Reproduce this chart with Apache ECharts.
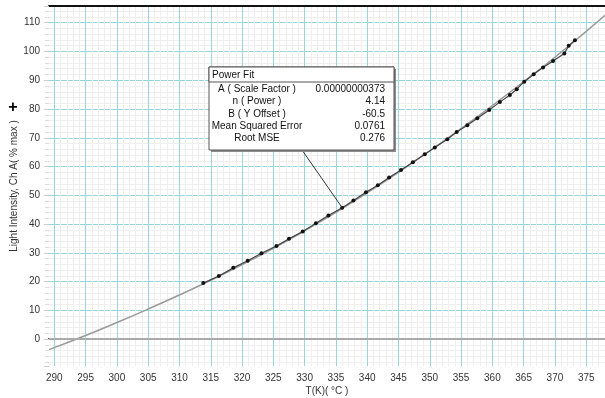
<!DOCTYPE html>
<html>
<head>
<meta charset="utf-8">
<script src="https://cdn.jsdelivr.net/npm/echarts@6/dist/echarts.min.js"></script>
<style>
html,body{margin:0;padding:0;background:#fff;}
#main{width:605px;height:398px;}
</style>
</head>
<body>
<div id="main"></div>
<script>
// measured points: temperature (K) and light intensity (% max)
var tempK = [313.8, 316.3, 318.6, 320.9, 323.1, 325.5, 327.5, 329.7, 331.8, 333.8,
             336.0, 337.8, 339.8, 341.7, 343.5, 345.4, 347.3, 349.2, 350.8, 352.8,
             354.3, 356.0, 357.6, 359.5, 361.2, 362.8, 363.9, 365.1, 366.6, 368.1,
             369.7, 371.5, 372.2, 373.2];
var light = [19.5, 22.0, 24.8, 27.3, 29.9, 32.4, 34.9, 37.4, 40.3, 43.0,
             45.7, 48.2, 51.1, 53.5, 56.2, 58.8, 61.5, 64.3, 66.6, 69.5,
             72.0, 74.4, 76.8, 79.7, 82.4, 84.9, 86.9, 89.5, 92.1, 94.4,
             96.7, 99.3, 102.0, 103.9];

// power fit curve
var fitK = [289.15, 295, 300, 305, 310, 315, 320, 325, 330, 335, 340, 345, 350, 355, 360, 365, 370, 375, 378];
var fitY = [-3.6, 1.3, 5.8, 10.5, 15.4, 20.5, 25.9, 31.6, 37.7, 44.1, 50.9, 58.0, 65.5, 73.2, 81.2, 89.5, 98.0, 107.0, 112.6];

// fit box rows
var fitLabels = ['A ( Scale Factor )', 'n ( Power )', 'B ( Y Offset )', 'Mean Squared Error', 'Root MSE'];
var fitValues = ['0.00000000373', '4.14', '-60.5', '0.0761', '0.276'];

var xMin = 289.15, xMax = 378, yMin = -9.3, yMax = 115.8;

function pairs(xs, ys) {
    var out = [];
    for (var i = 0; i < xs.length; i++) out.push([xs[i], ys[i]]);
    return out;
}

var labelFont = {color: '#333', fontSize: 10, fontFamily: 'Liberation Sans'};

var boxX = 209, boxY = 67, boxW = 185, boxH = 83;
var boxItems = [
    {type: 'rect', shape: {x: boxX + 2, y: boxY + 2, width: boxW, height: boxH}, style: {fill: '#8c8c8c'}, z: 100},
    {type: 'rect', shape: {x: boxX, y: boxY, width: boxW, height: boxH}, style: {fill: '#fff', stroke: '#555', lineWidth: 1}, z: 101},
    {type: 'rect', shape: {x: boxX, y: boxY, width: boxW, height: 15}, style: {fill: '#fff', stroke: '#555', lineWidth: 1}, z: 102},
    {type: 'text', x: boxX + 3, y: boxY + 8, style: {text: 'Power Fit', fill: '#111', fontSize: 10, fontFamily: 'Liberation Sans', verticalAlign: 'middle'}, z: 103}
];
for (var i = 0; i < fitLabels.length; i++) {
    var ry = 89 + i * 12.4;
    boxItems.push({type: 'text', x: 257, y: ry, style: {text: fitLabels[i], fill: '#111', fontSize: 10, fontFamily: 'Liberation Sans', align: 'center', verticalAlign: 'middle'}, z: 103});
    boxItems.push({type: 'text', x: 385, y: ry, style: {text: fitValues[i], fill: '#111', fontSize: 10, fontFamily: 'Liberation Sans', align: 'right', verticalAlign: 'middle'}, z: 103});
}
boxItems.push({type: 'text', x: 13, y: 108, style: {text: '+', fill: '#000', fontSize: 16, fontWeight: 'bold', fontFamily: 'Liberation Sans', align: 'center', verticalAlign: 'middle'}, z: 103});

var option = {
    animation: false,
    backgroundColor: '#fff',
    grid: {left: 49, right: 0, top: 6, bottom: 32, containLabel: false, outerBoundsMode: 'none'},
    xAxis: [{
        type: 'value',
        min: xMin, max: xMax,
        splitNumber: 18,
        name: 'T(K)( °C )',
        nameLocation: 'middle',
        nameGap: 20,
        nameMoveOverlap: false,
        nameTextStyle: labelFont,
        axisLine: {show: true, lineStyle: {color: '#222', width: 2}},
        axisTick: {show: false},
        axisLabel: Object.assign({margin: 7, showMinLabel: false, showMaxLabel: false}, labelFont),
        splitLine: {show: true, showMinLine: false, showMaxLine: false, lineStyle: {color: '#96d6dc', width: 1}},
        minorTick: {show: false, splitNumber: 5},
        minorSplitLine: {show: true, lineStyle: {color: '#efefef', width: 1}}
    }, {
        type: 'value',
        position: 'top',
        min: xMin, max: xMax,
        axisLine: {show: true, lineStyle: {color: '#111', width: 2}},
        axisTick: {show: false},
        axisLabel: {show: false},
        splitLine: {show: false}
    }],
    yAxis: {
        type: 'value',
        min: yMin, max: yMax,
        splitNumber: 12,
        name: 'Light Intensity, Ch A( % max )',
        nameLocation: 'middle',
        nameGap: 30,
        nameMoveOverlap: false,
        nameTextStyle: labelFont,
        axisLine: {show: false},
        axisTick: {show: true, length: 5, lineStyle: {color: '#ccc'}},
        axisLabel: Object.assign({margin: 9, showMinLabel: false, showMaxLabel: false}, labelFont),
        splitLine: {show: true, showMinLine: false, showMaxLine: false, lineStyle: {color: '#96d6dc', width: 1}},
        minorTick: {show: true, splitNumber: 5, length: 4, lineStyle: {color: '#ddd'}},
        minorSplitLine: {show: true, lineStyle: {color: '#efefef', width: 1}}
    },
    series: [{
        name: 'Power Fit',
        type: 'line',
        data: pairs(fitK, fitY),
        smooth: true,
        showSymbol: false,
        lineStyle: {color: '#9a9a9a', width: 1.5},
        z: 3,
        markLine: {
            silent: true,
            symbol: 'none',
            label: {show: false},
            lineStyle: {color: '#aaa', width: 2, type: 'solid'},
            data: [{yAxis: 0}]
        }
    }, {
        name: 'Light Intensity',
        type: 'line',
        data: pairs(tempK, light),
        symbol: 'circle',
        symbolSize: 4,
        itemStyle: {color: '#111'},
        lineStyle: {color: '#444', width: 1.2},
        z: 4
    }],
    graphic: boxItems
};

var chart = echarts.init(document.getElementById('main'));
chart.setOption(option);

// leader line from the box to the fitted point
var tip = chart.convertToPixel({xAxisIndex: 0, yAxisIndex: 0}, [tempK[10], light[10]]);
chart.setOption({
    graphic: boxItems.concat([{
        type: 'line',
        shape: {x1: 302, y1: boxY + boxH, x2: tip[0], y2: tip[1]},
        style: {stroke: '#333', lineWidth: 1},
        z: 99
    }])
});
</script>
</body>
</html>
